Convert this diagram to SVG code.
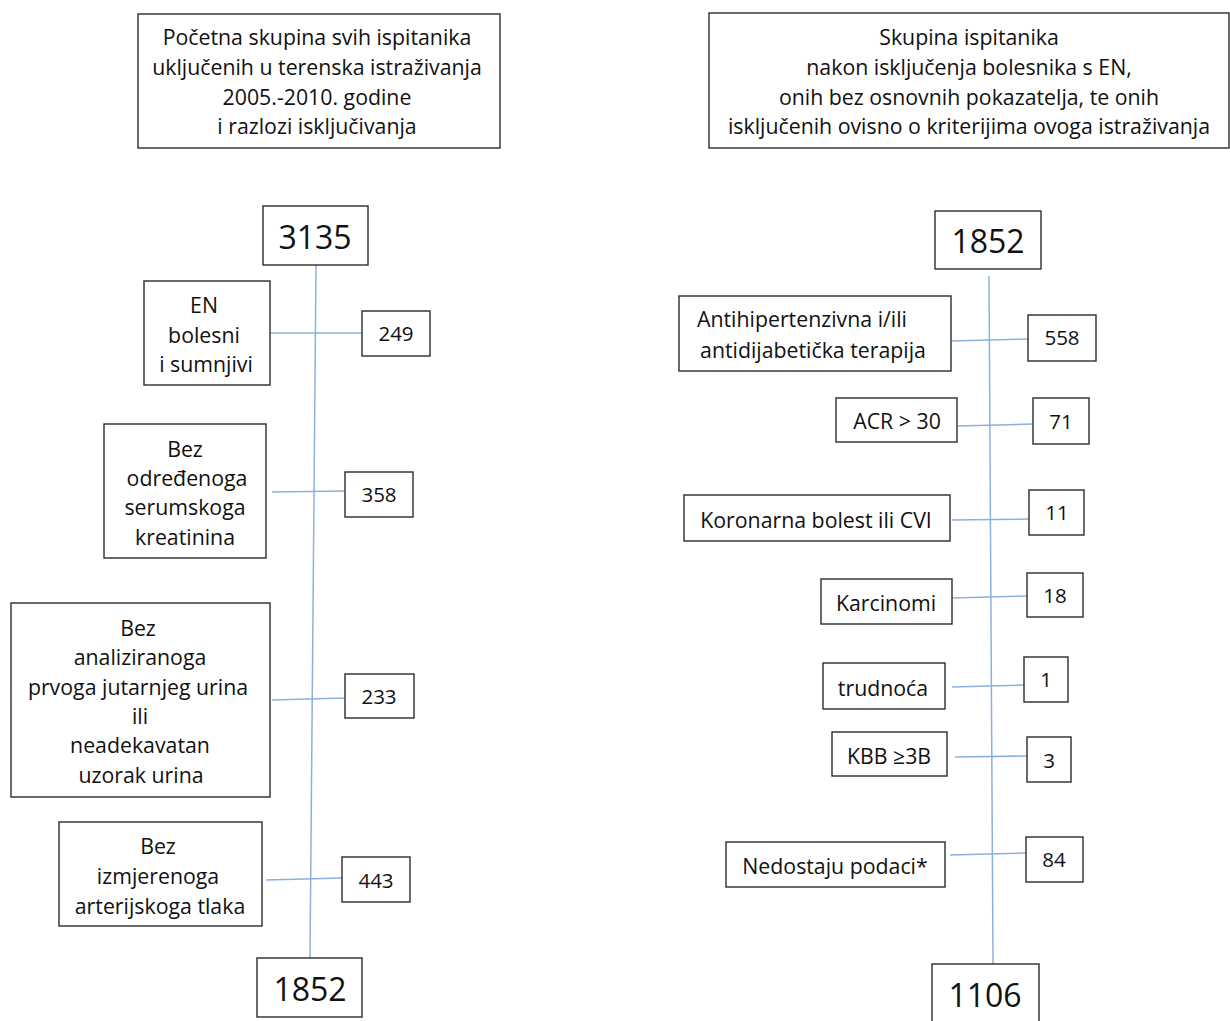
<svg xmlns="http://www.w3.org/2000/svg" width="1230" height="1021" viewBox="0 0 1230 1021">
<style>
rect.b{fill:#fff;stroke:#2b2b2b;stroke-width:1.4}
text{font-family:"Open Sans",Lato,"Liberation Sans",sans-serif;font-size:21.3px;fill:#111;text-anchor:middle;dominant-baseline:central}
text.big{font-size:32px}
text.num{font-size:20.5px}
.c line{stroke:#8cb0de;stroke-width:1.5}
</style>
<rect width="1230" height="1021" fill="#fff"/>
<g class="c" id="connectors">
<line x1="316" y1="265" x2="310" y2="958"/>
<line x1="270" y1="333" x2="362" y2="333"/>
<line x1="272" y1="492" x2="345" y2="491"/>
<line x1="272" y1="700" x2="345" y2="698"/>
<line x1="266" y1="880" x2="342" y2="878"/>
<line x1="989" y1="276" x2="993" y2="964"/>
<line x1="952" y1="341" x2="1028" y2="339"/>
<line x1="958" y1="426" x2="1033" y2="424"/>
<line x1="952" y1="520" x2="1029" y2="519"/>
<line x1="952" y1="598" x2="1027" y2="596"/>
<line x1="952" y1="687" x2="1024" y2="685"/>
<line x1="955" y1="757" x2="1027" y2="756"/>
<line x1="950" y1="855" x2="1026" y2="853"/>
</g>
<g id="title-left"><rect class="b" x="138" y="14" width="362" height="134"/>
<text x="317" y="36">Početna skupina svih ispitanika</text>
<text x="317" y="66">uključenih u terenska istraživanja</text>
<text x="317" y="96">2005.-2010. godine</text>
<text x="317" y="125">i razlozi isključivanja</text></g>
<g id="title-right"><rect class="b" x="709" y="13" width="520" height="135"/>
<text x="969" y="36">Skupina ispitanika</text>
<text x="969" y="66">nakon isključenja bolesnika s EN,</text>
<text x="969" y="96">onih bez osnovnih pokazatelja, te onih</text>
<text x="969" y="125">isključenih ovisno o kriterijima ovoga istraživanja</text></g>
<g id="n3135"><rect class="b" x="263" y="206" width="105" height="59"/><text class="big" x="315" y="236">3135</text></g>
<g id="en"><rect class="b" x="144" y="281" width="126" height="104"/>
<text x="204" y="304">EN</text><text x="204" y="334">bolesni</text><text x="206" y="363">i sumnjivi</text></g>
<g id="n249"><rect class="b" x="362" y="311" width="68" height="45"/><text class="num" x="396" y="333">249</text></g>
<g id="kreat"><rect class="b" x="104" y="424" width="162" height="134"/>
<text x="185" y="448">Bez</text><text x="187" y="477">određenoga</text><text x="185" y="506">serumskoga</text><text x="185" y="536">kreatinina</text></g>
<g id="n358"><rect class="b" x="345" y="472" width="68" height="45"/><text class="num" x="379" y="494">358</text></g>
<g id="urin"><rect class="b" x="11" y="603" width="259" height="194"/>
<text x="138" y="627">Bez</text><text x="140" y="656">analiziranoga</text><text x="138" y="686">prvoga jutarnjeg urina</text><text x="140" y="715">ili</text><text x="140" y="744">neadekavatan</text><text x="141" y="774">uzorak urina</text></g>
<g id="n233"><rect class="b" x="345" y="674" width="69" height="44"/><text class="num" x="379" y="696">233</text></g>
<g id="tlak"><rect class="b" x="59" y="822" width="203" height="104"/>
<text x="158" y="845">Bez</text><text x="158" y="875">izmjerenoga</text><text x="160" y="905">arterijskoga tlaka</text></g>
<g id="n443"><rect class="b" x="342" y="857" width="68" height="45"/><text class="num" x="376" y="880">443</text></g>
<g id="n1852b"><rect class="b" x="257" y="958" width="105" height="59"/><text class="big" x="310" y="988">1852</text></g>
<g id="n1852"><rect class="b" x="935" y="211" width="106" height="58"/><text class="big" x="988" y="240">1852</text></g>
<g id="terap"><rect class="b" x="679" y="296" width="272" height="75"/>
<text x="802" y="318">Antihipertenzivna i/ili</text><text x="813" y="349">antidijabetička terapija</text></g>
<g id="n558"><rect class="b" x="1028" y="315" width="68" height="46"/><text class="num" x="1062" y="337">558</text></g>
<g id="acr"><rect class="b" x="836" y="398" width="121" height="44"/><text x="897" y="420">ACR &gt; 30</text></g>
<g id="n71"><rect class="b" x="1033" y="398" width="56" height="46"/><text class="num" x="1061" y="421">71</text></g>
<g id="kor"><rect class="b" x="684" y="495" width="266" height="46"/><text x="816" y="519">Koronarna bolest ili CVI</text></g>
<g id="n11"><rect class="b" x="1029" y="490" width="55" height="45"/><text class="num" x="1057" y="512">11</text></g>
<g id="karc"><rect class="b" x="821" y="579" width="131" height="45"/><text x="886" y="602">Karcinomi</text></g>
<g id="n18"><rect class="b" x="1027" y="573" width="56" height="44"/><text class="num" x="1055" y="595">18</text></g>
<g id="trud"><rect class="b" x="823" y="663" width="122" height="46"/><text x="883" y="687">trudnoća</text></g>
<g id="n1"><rect class="b" x="1024" y="657" width="44" height="45"/><text class="num" x="1046" y="679">1</text></g>
<g id="kbb"><rect class="b" x="832" y="732" width="115" height="44"/><text x="889" y="755">KBB ≥3B</text></g>
<g id="n3"><rect class="b" x="1027" y="737" width="44" height="45"/><text class="num" x="1049" y="760">3</text></g>
<g id="nedo"><rect class="b" x="726" y="842" width="219" height="45"/><text x="835" y="865">Nedostaju podaci*</text></g>
<g id="n84"><rect class="b" x="1026" y="837" width="57" height="45"/><text class="num" x="1054" y="859">84</text></g>
<g id="n1106"><rect class="b" x="932" y="964" width="107" height="62"/><text class="big" x="985" y="994">1106</text></g>
</svg>
